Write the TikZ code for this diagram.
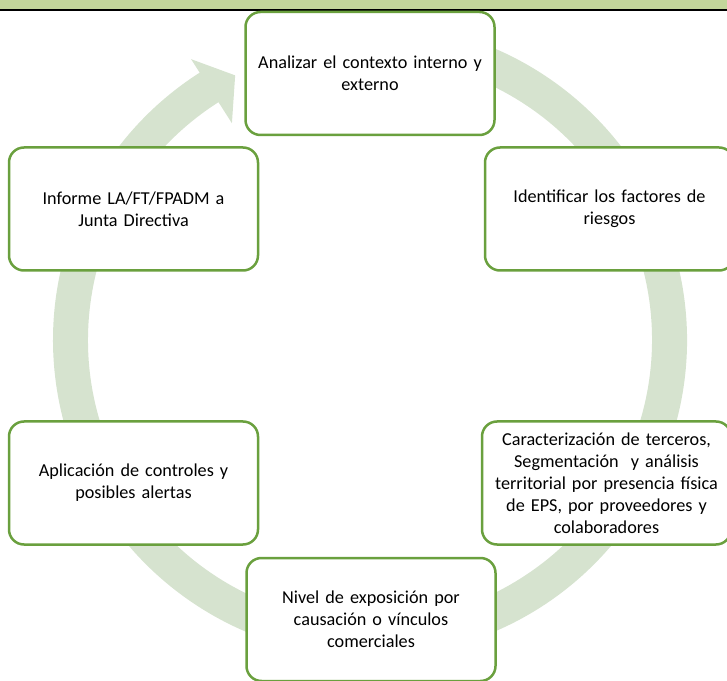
\documentclass[tikz,border=0pt]{standalone}
\usepackage{fontspec}
\setmainfont{Carlito}
\usetikzlibrary{positioning,calc}

\definecolor{headgreen}{RGB}{195,214,155}
\definecolor{ringgreen}{RGB}{214,227,207}
\definecolor{boxgreen}{RGB}{106,160,62}

\begin{document}
\begin{tikzpicture}[
    x=1pt, y=1pt,
    font=\fontsize{18.2}{22}\selectfont,
    stage/.style ={rectangle, rounded corners=15pt, draw=boxgreen,
                   line width=2.5pt, fill=white, align=center,
                   minimum width=249pt, minimum height=123pt,
                   text width=242pt, inner sep=0pt},
    ring/.style  ={fill=ringgreen, draw=none},
]
\useasboundingbox (0,0) rectangle (727,680);

% ----------------------------------------------------------------------
%  header bar
% ----------------------------------------------------------------------
\fill[headgreen] (0,670) rectangle (727,680);
\draw[line width=2pt] (0,670) -- (727,670);

% ----------------------------------------------------------------------
%  cycle arrow (clockwise ring with head at the top left)
% ----------------------------------------------------------------------
\coordinate (ctr) at (370,340);
\begin{scope}[shift={(ctr)}]
  \fill[ring] (100:317) arc[start angle=100, end angle=-237.5, radius=317]
        -- (122.5:333) -- (117:297) -- (122.5:257) -- (122.5:282)
        arc[start angle=-237.5, end angle=100, radius=282] -- cycle;
\end{scope}

% ----------------------------------------------------------------------
%  stages of the cycle
% ----------------------------------------------------------------------
\node[stage] (contexto)   at (370,606.5) {Analizar el contexto interno y\\externo};
\node[stage] (factores)   at (609.5,471) {Identificar los factores de\\riesgos};
\node[stage] (terceros)   at (606.5,197)
        {Caracterización de terceros,\\Segmentación~ y análisis\\territorial por presencia física\\de EPS, por proveedores y\\colaboradores};
\node[stage] (exposicion) at (371,60.5)
        {Nivel de exposición por\\causación o vínculos\\comerciales};
\node[stage] (controles)  at (133.5,197) {Aplicación de controles y\\posibles alertas};
\node[stage] (informe)    at (133.5,471) {Informe LA/FT/FPADM a\\Junta Directiva};

\end{tikzpicture}
\end{document}
